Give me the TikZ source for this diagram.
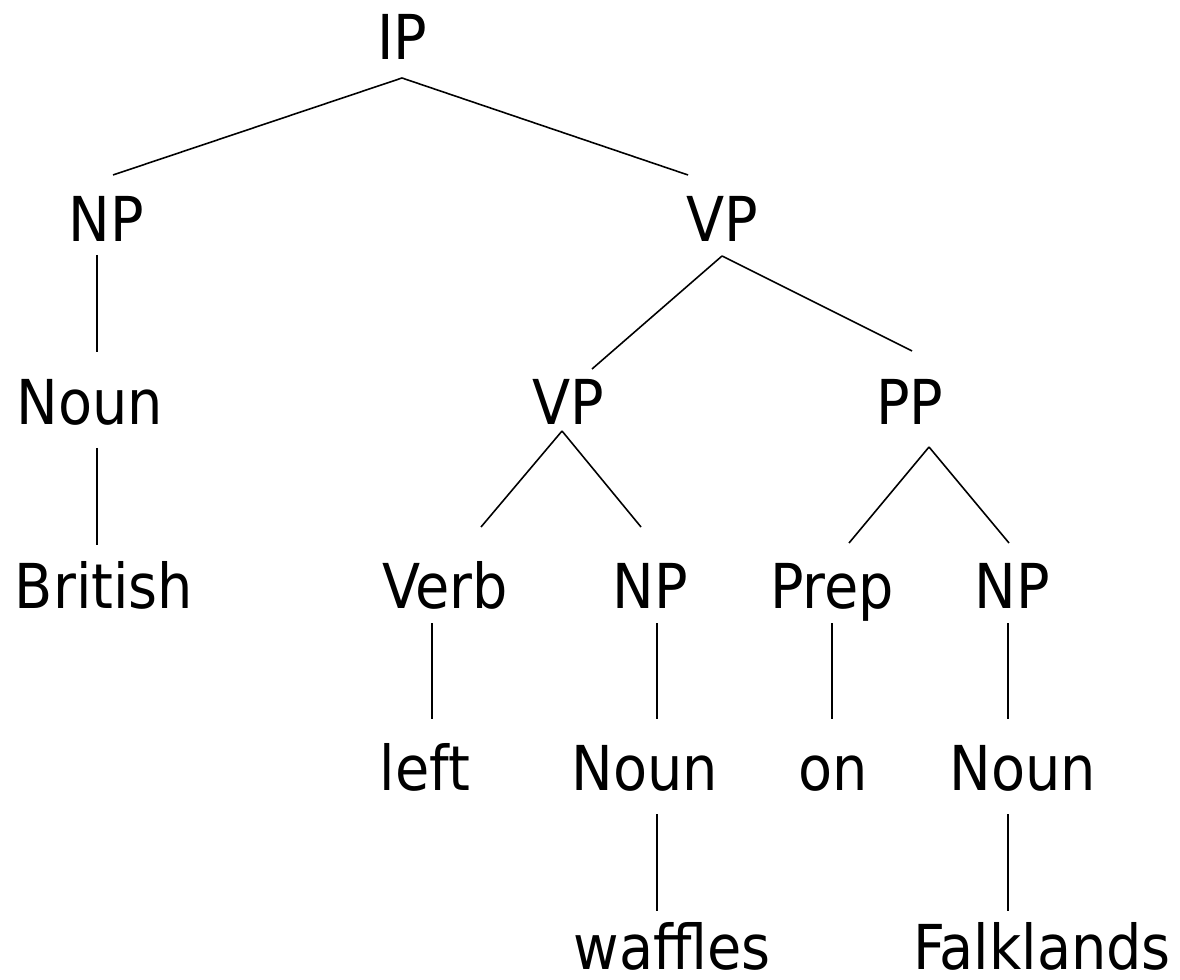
\documentclass[tikz,border=0pt]{standalone}
\usepackage{fontspec}
\setmainfont{DejaVu Sans Condensed}
\begin{document}
\begin{tikzpicture}[x=0.01cm,y=-0.01cm,
  lab/.style={anchor=base,inner sep=0pt,font=\fontsize{17.6pt}{20pt}\selectfont},
  edge/.style={draw=black,line width=0.45pt}]
\useasboundingbox (0,0) rectangle (1180,980);
% nodes
\node[lab] (ip) at (402,60) {IP};
\node[lab] (np1) at (106,242) {NP};
\node[lab] (vp1) at (722,242) {VP};
\node[lab] (noun1) at (90,425) {Noun};
\node[lab] (vp2) at (568,425) {VP};
\node[lab] (pp) at (910,425) {PP};
\node[lab] (british) at (104,608) {British};
\node[lab] (verb) at (445,608) {Verb};
\node[lab] (np2) at (650,608) {NP};
\node[lab] (prep) at (832,608) {Prep};
\node[lab] (np3) at (1012,608) {NP};
\node[lab] (left) at (425,790) {left};
\node[lab] (noun2) at (645,790) {Noun};
\node[lab] (on) at (833,790) {on};
\node[lab] (noun3) at (1023,790) {Noun};
\node[lab] (waffles) at (672,969) {waffles};
\node[lab] (falk) at (1042,969) {Falklands};
% connector end points
\coordinate (ip-b) at (402,78);
\coordinate (np1-t) at (113,175);
\coordinate (vp1-t) at (688,175);
\coordinate (np1-b) at (97,255);
\coordinate (noun1-t) at (97,352);
\coordinate (vp1-b) at (722,256);
\coordinate (vp2-t) at (592,369);
\coordinate (pp-t) at (912,351);
\coordinate (noun1-b) at (97,448);
\coordinate (british-t) at (97,545);
\coordinate (vp2-b) at (562,431);
\coordinate (verb-t) at (481,527);
\coordinate (np2-t) at (641,527);
\coordinate (pp-b) at (929,447);
\coordinate (prep-t) at (849,543);
\coordinate (np3-t) at (1009,543);
\coordinate (verb-b) at (432,623);
\coordinate (left-t) at (432,719);
\coordinate (np2-b) at (657,623);
\coordinate (noun2-t) at (657,719);
\coordinate (prep-b) at (832,623);
\coordinate (on-t) at (832,719);
\coordinate (np3-b) at (1008,623);
\coordinate (noun3-t) at (1008,719);
\coordinate (noun2-b) at (657,814);
\coordinate (waffles-t) at (657,911);
\coordinate (noun3-b) at (1008,814);
\coordinate (falk-t) at (1008,911);
% connectors
\draw[edge] (ip-b) -- (np1-t);
\draw[edge] (ip-b) -- (vp1-t);
\draw[edge] (np1-b) -- (noun1-t);
\draw[edge] (vp1-b) -- (vp2-t);
\draw[edge] (vp1-b) -- (pp-t);
\draw[edge] (noun1-b) -- (british-t);
\draw[edge] (vp2-b) -- (verb-t);
\draw[edge] (vp2-b) -- (np2-t);
\draw[edge] (pp-b) -- (prep-t);
\draw[edge] (pp-b) -- (np3-t);
\draw[edge] (verb-b) -- (left-t);
\draw[edge] (np2-b) -- (noun2-t);
\draw[edge] (prep-b) -- (on-t);
\draw[edge] (np3-b) -- (noun3-t);
\draw[edge] (noun2-b) -- (waffles-t);
\draw[edge] (noun3-b) -- (falk-t);
\end{tikzpicture}
\end{document}
